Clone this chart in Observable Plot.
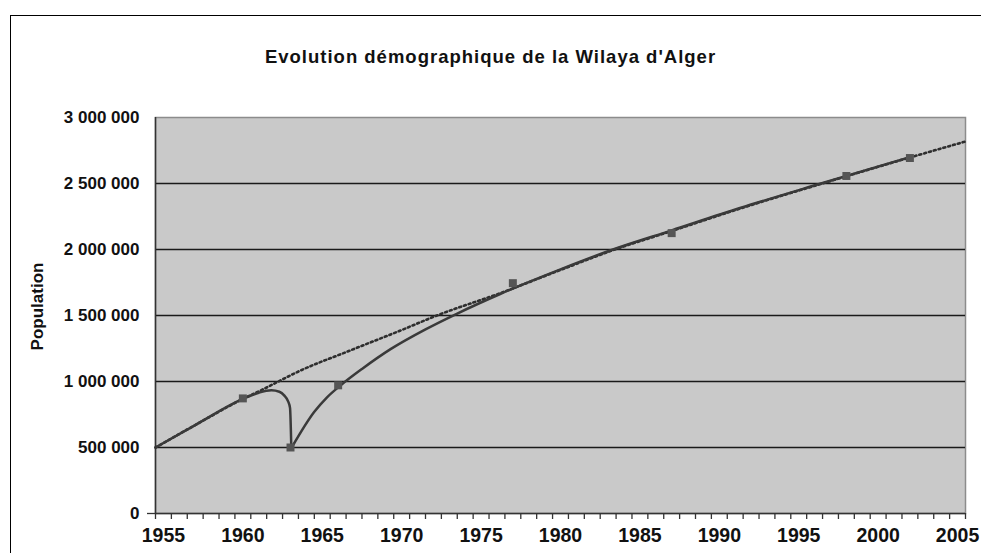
<!DOCTYPE html>
<html><head><meta charset="utf-8">
<script src="https://cdn.jsdelivr.net/npm/d3@7"></script>
<script src="https://cdn.jsdelivr.net/npm/@observablehq/plot@0.6"></script>
<style>
html,body{margin:0;padding:0;background:#fff;width:981px;height:553px;overflow:hidden;font-family:"Liberation Sans",Arial,sans-serif}
#frame{position:absolute;left:10px;top:15px;width:1000px;height:600px;border-left:1.5px solid #000;border-top:1.5px solid #000}
#title{position:absolute;left:0;width:981px;top:46px;text-align:center;font-weight:bold;font-size:18.5px;letter-spacing:1px;color:#111}
#chart{position:absolute;left:0;top:0}
</style></head><body>
<div id="frame"></div>
<div id="title">Evolution démographique de la Wilaya d'Alger</div>
<div id="chart"></div>
<script>
// Census points (squares)
const markerYears = [1960, 1963, 1966, 1977, 1987, 1998, 2002];
const markerPop   = [872000, 500000, 971000, 1745000, 2124000, 2557000, 2693000];

// Solid evolution curve, two segments (before / after the 1962-63 drop)
const curveSeg  = ["a","a","a","a","a","a","a","a","a","a",
                   "b","b","b","b","b","b","b","b","b","b","b","b","b","b","b"];
const curveYears = [1954.5, 1957, 1960, 1961, 1961.8, 1962.3, 1962.6, 1962.85, 1962.97, 1963.05,
                    1963.08, 1964.5, 1965.3, 1966.2, 1967.5, 1969.3, 1971.5, 1973.5, 1976.2, 1980, 1983.3, 1987, 1991.3, 1996.4, 2002];
const curvePop   = [500000, 670000, 868000, 915000, 933000, 922000, 895000, 850000, 800000, 500000,
                    500000, 770000, 880000, 975000, 1095000, 1245000, 1395000, 1515000, 1663000, 1850000, 2000000, 2145000, 2314000, 2500000, 2700000];

// Dotted trend line
const trendYears = [1954.5, 1957, 1960, 1961.1, 1963.65, 1966.8, 1970, 1972.3, 1976.2, 1980, 1983.3, 1987, 1991.3, 1996.4, 2002, 2005.5];
const trendPop   = [500000, 670000, 868000, 931000, 1084000, 1237000, 1390000, 1504000, 1669000, 1845000, 1995000, 2140000, 2310000, 2497000, 2697000, 2818000];

// Axes
const yTicks = [0, 500000, 1000000, 1500000, 2000000, 2500000, 3000000];
const gridValues = [500000, 1000000, 1500000, 2000000, 2500000];
const yearLabels = [1955, 1960, 1965, 1970, 1975, 1980, 1985, 1990, 1995, 2000, 2005];
const yearBounds = d3.range(1954.5, 2006, 1);

const markers = markerYears.map((y, i) => ({year: y, pop: markerPop[i]}));
const curve = curveYears.map((y, i) => ({year: y, pop: curvePop[i], seg: curveSeg[i]}));
const trend = trendYears.map((y, i) => ({year: y, pop: trendPop[i]}));

const fmt = d => d === 0 ? "0" : d3.format(",")(d).replace(/,/g, " ");

const chart = Plot.plot({
  width: 981, height: 553,
  marginLeft: 155, marginRight: 16, marginTop: 117, marginBottom: 40,
  style: {background: "transparent", fontFamily: "Liberation Sans, Arial, sans-serif", color: "#111", overflow: "visible"},
  x: {domain: [1954.5, 2005.5]},
  y: {domain: [0, 3000000]},
  marks: [
    Plot.frame({fill: "#c9c9c9", stroke: "#8c8c8c", strokeWidth: 1.5}),
    Plot.ruleY(gridValues, {stroke: "#1a1a1a", strokeWidth: 1.6}),
    Plot.line(trend, {x: "year", y: "pop", stroke: "#2e2e2e", strokeWidth: 2.6, strokeDasharray: "2,3", curve: "monotone-x"}),
    Plot.line(curve, {x: "year", y: "pop", z: "seg", stroke: "#3a3a3a", strokeWidth: 2.5, curve: "monotone-x"}),
    Plot.dot(markers, {x: "year", y: "pop", symbol: "square", r: 4.5, fill: "#555", stroke: null}),
    Plot.ruleX([1954.5], {stroke: "#333", strokeWidth: 1.5}),
    Plot.ruleY([0], {stroke: "#333", strokeWidth: 1.5}),
    Plot.axisX(yearBounds, {tickSize: 6, tickFormat: () => "", stroke: "#333", strokeWidth: 1.3, label: null}),
    Plot.axisX(yearLabels, {tickSize: 0, tickPadding: 15, fontSize: 19.5, fontWeight: "bold", tickFormat: d => String(d), label: null}),
    Plot.axisY([0], {tickSize: 8, tickFormat: () => "", stroke: "#333", strokeWidth: 1.3, label: null}),
    Plot.axisY(yTicks, {tickSize: 0, tickPadding: 16, fontSize: 17, fontWeight: "bold", tickFormat: fmt, label: null}),
    Plot.text(["Population"], {frameAnchor: "left", textAnchor: "middle", dx: -118, dy: -9, rotate: -90, fontSize: 17, fontWeight: "bold", fill: "#111"})
  ]
});
document.getElementById("chart").append(chart);
</script>
</body></html>
